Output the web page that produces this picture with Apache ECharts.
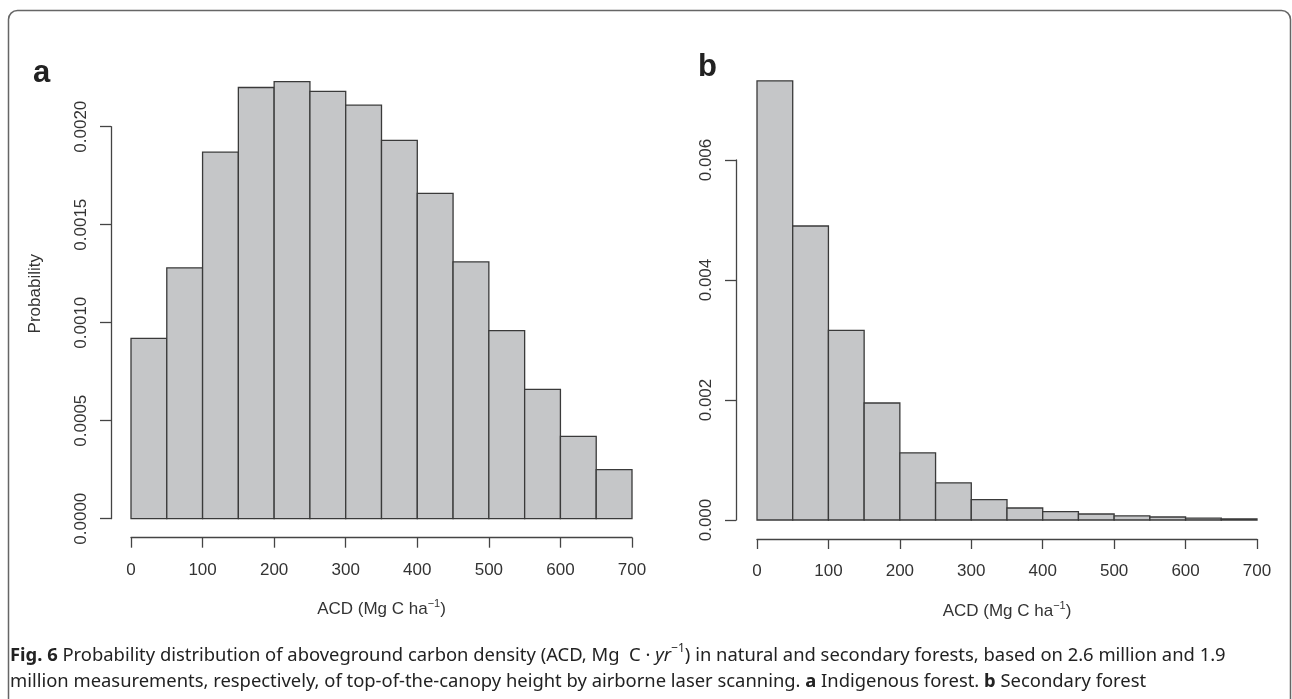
<!DOCTYPE html>
<html>
<head>
<meta charset="utf-8">
<script src="https://cdn.jsdelivr.net/npm/echarts@6/dist/echarts.min.js"></script>
<style>
html, body { margin: 0; padding: 0; background: #fff; }
#chart { width: 1292px; height: 699px; }
</style>
</head>
<body>
<div id="chart"></div>
<script>
// histogram bins (ACD, Mg C ha-1)
var binStart = [0, 50, 100, 150, 200, 250, 300, 350, 400, 450, 500, 550, 600, 650];
var binWidth = 50;
// a: indigenous forest
var probA = [0.00092, 0.00128, 0.00187, 0.00220, 0.00223, 0.00218, 0.00211, 0.00193,
             0.00166, 0.00131, 0.00096, 0.00066, 0.00042, 0.00025];
// b: secondary forest
var probB = [0.00732, 0.00490, 0.00316, 0.00195, 0.00112, 0.00062, 0.00034, 0.00020,
             0.00014, 0.00010, 0.00007, 0.00005, 0.00003, 0.00002];
var xTicks = ['0', '100', '200', '300', '400', '500', '600', '700'];

var font = 'Liberation Sans, Arial, sans-serif';
var capFont = '"Noto Sans", "Open Sans", sans-serif';
var axisCol = '#444';

function bins(vals) {
  return vals.map(function (v, i) { return [binStart[i], binStart[i] + binWidth, v]; });
}

function histItem(params, api) {
  var top = api.coord([api.value(0), api.value(2)]);
  var bot = api.coord([api.value(1), 0]);
  return {
    type: 'rect',
    shape: { x: top[0], y: top[1], width: bot[0] - top[0], height: bot[1] - top[1] },
    style: { fill: '#c5c6c8', stroke: '#3a3a3a', lineWidth: 1.3 }
  };
}

function xAx(idx) {
  return {
    type: 'value', gridIndex: idx, min: 0, max: 700, interval: 100, offset: 19,
    axisLine: { onZero: false, lineStyle: { color: axisCol, width: 1.3 } },
    axisTick: { length: 10, lineStyle: { color: axisCol, width: 1.3 } },
    axisLabel: { margin: 24, color: '#333', fontSize: 17, fontFamily: font,
      formatter: function (v) { return xTicks[v / 100]; } },
    splitLine: { show: false },
    name: 'ACD (Mg C ha{sup|−1})', nameLocation: 'middle', nameGap: 61,
    nameTextStyle: { color: '#333', fontSize: 17, fontFamily: font,
      rich: { sup: { fontSize: 11, fontFamily: font, color: '#333', verticalAlign: 'top', lineHeight: 22 } } }
  };
}

function yAx(idx, max, step, dec, offs) {
  return {
    type: 'value', gridIndex: idx, min: 0, max: max, interval: step, offset: offs,
    axisLine: { show: true, onZero: false, lineStyle: { color: axisCol, width: 1.3 } },
    axisTick: { show: true, length: 11, lineStyle: { color: axisCol, width: 1.3 } },
    axisLabel: { rotate: 90, margin: 21, color: '#333', fontSize: 17, fontFamily: font,
      formatter: function (v) { return v.toFixed(dec); } },
    splitLine: { show: false }
  };
}

var yA = yAx(0, 0.002, 0.0005, 4, 20);
yA.name = 'Probability';
yA.nameLocation = 'middle';
yA.nameGap = 67;
yA.nameTextStyle = { color: '#333', fontSize: 17, fontFamily: font, padding: [0, 0, 0, 58] };

var option = {
  animation: false,
  backgroundColor: '#fff',
  grid: [
    { left: 131, right: 660, top: 126.7, bottom: 180.3 },
    { left: 757, right: 35, top: 160, bottom: 179 }
  ],
  xAxis: [xAx(0), xAx(1)],
  yAxis: [yA, yAx(1, 0.006, 0.002, 3, 21)],
  series: [
    { type: 'custom', name: 'a', xAxisIndex: 0, yAxisIndex: 0, clip: false,
      renderItem: histItem, encode: { x: [0, 1], y: 2 }, data: bins(probA) },
    { type: 'custom', name: 'b', xAxisIndex: 1, yAxisIndex: 1, clip: false,
      renderItem: histItem, encode: { x: [0, 1], y: 2 }, data: bins(probB) }
  ],
  graphic: [
    { type: 'rect', silent: true, z: -1,
      shape: { x: 8.5, y: 10.5, width: 1282, height: 740, r: 9 },
      style: { fill: 'none', stroke: '#666', lineWidth: 1.5 } },
    { type: 'text', left: 33, top: 58,
      style: { text: 'a', font: 'bold 31px ' + font, fill: '#222' } },
    { type: 'text', left: 698, top: 52,
      style: { text: 'b', font: 'bold 31px ' + font, fill: '#222' } },
    { type: 'text', left: 10, top: 643,
      style: {
        text: '{b|Fig. 6} Probability distribution of aboveground carbon density (ACD, Mg  C · {i|yr}{s|−1}) in natural and secondary forests, based on 2.6 million and 1.9\n' +
              'million measurements, respectively, of top-of-the-canopy height by airborne laser scanning. {b|a} Indigenous forest. {b|b} Secondary forest',
        font: '18.4px ' + capFont, fill: '#222', lineHeight: 26,
        rich: {
          b: { fontWeight: 'bold', fontSize: 18.4, fontFamily: capFont, fill: '#222', lineHeight: 26 },
          i: { fontStyle: 'italic', fontSize: 18.4, fontFamily: capFont, fill: '#222', lineHeight: 26 },
          s: { fontSize: 12, fontFamily: capFont, fill: '#222', verticalAlign: 'top', lineHeight: 20 }
        }
      } }
  ]
};

var chart = echarts.init(document.getElementById('chart'), null, { renderer: 'canvas' });
chart.setOption(option);
</script>
</body>
</html>
